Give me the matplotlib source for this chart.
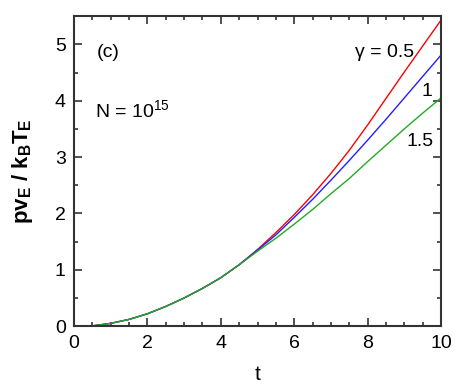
import matplotlib
matplotlib.use("Agg")
import matplotlib.pyplot as plt
from matplotlib.ticker import MultipleLocator

plt.rcParams['font.family'] = ['Liberation Sans', 'DejaVu Sans']
plt.rcParams['mathtext.fontset'] = 'custom'
plt.rcParams['mathtext.rm'] = 'Liberation Sans'
plt.rcParams['mathtext.it'] = 'Liberation Sans'
plt.rcParams['mathtext.bf'] = 'Liberation Sans:bold'

t_common = [0.45, 0.5, 1.0, 1.5, 2.0, 2.5, 3.0, 3.5, 4.0, 4.5]
v_common = [0.0, 0.005, 0.05, 0.12, 0.22, 0.35, 0.50, 0.67, 0.86, 1.09]

t_tail = [5.0, 5.5, 6.0, 6.5, 7.0, 7.5, 8.0, 8.5, 9.0, 9.5, 10.0]
red_tail = [1.36, 1.66, 1.98, 2.33, 2.71, 3.12, 3.57, 4.04, 4.51, 4.97, 5.43]
blue_tail = [1.35, 1.62, 1.93, 2.25, 2.59, 2.94, 3.30, 3.67, 4.05, 4.43, 4.81]
green_tail = [1.33, 1.56, 1.81, 2.07, 2.35, 2.62, 2.92, 3.21, 3.50, 3.78, 4.05]

t = t_common + t_tail
series = [
    ("0.5", v_common + red_tail, "#ff0000"),
    ("1", v_common + blue_tail, "#2020ff"),
    ("1.5", v_common + green_tail, "#22aa22"),
]

fig = plt.figure(figsize=(4.57, 3.86), dpi=100)
ax = fig.add_axes([0.162, 0.155, 0.803, 0.803])
for name, vals, col in series:
    ax.plot(t, vals, color=col, lw=1.0)

ax.set_xlim(0, 10)
ax.set_ylim(0, 5.5)
ax.xaxis.set_major_locator(MultipleLocator(2))
ax.xaxis.set_minor_locator(MultipleLocator(0.5))
ax.yaxis.set_major_locator(MultipleLocator(1))
ax.yaxis.set_minor_locator(MultipleLocator(0.5))
ax.tick_params(which='both', direction='in', top=True, right=True,
               labelsize=14, color='#333333', width=1.2)
ax.tick_params(which='major', length=6, pad=6)
ax.tick_params(which='minor', length=3)
for s in ax.spines.values():
    s.set_linewidth(1.5)
    s.set_color('#333333')

ax.set_xlabel('t', fontsize=15, labelpad=10)
ax.set_ylabel(r'$\mathbf{pv_E\ /\ k_BT_E}$', fontsize=16, labelpad=14)

ax.text(0.62, 4.85, '(c)', fontsize=14, va='center', ha='left')
ax.text(0.58, 3.84, r'N = 10$^{15}$', fontsize=14, va='center', ha='left')
ax.text(7.66, 4.85, 'γ = 0.5', fontsize=14, va='center', ha='left')
ax.text(9.46, 4.16, '1', fontsize=14, va='center', ha='left')
ax.text(9.07, 3.27, '1.5', fontsize=14, va='center', ha='left')

fig.savefig('out.png', dpi=100)
